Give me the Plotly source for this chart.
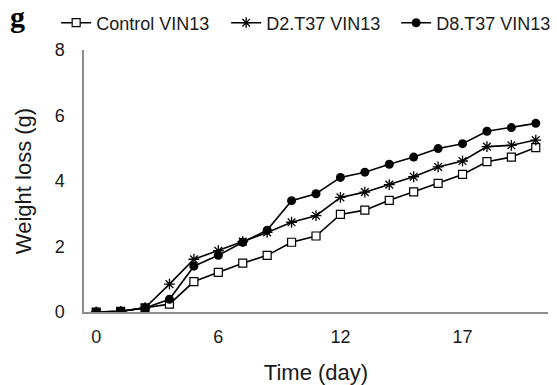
import plotly.graph_objects as go

# Sampling days (category axis, labelled every 5th point)
days = ["0", "1", "2", "3", "5", "6", "7", "8", "9", "10",
        "12", "13", "14", "15", "16", "17", "18", "19", "20"]
tick_days = ["0", "6", "12", "17"]

# Cumulative weight loss (g)
control_vin13 = [0.00, 0.02, 0.13, 0.24, 0.93, 1.21, 1.49, 1.73, 2.13, 2.32,
                 2.98, 3.11, 3.41, 3.67, 3.93, 4.20, 4.59, 4.73, 5.02]
d2_t37_vin13 = [0.00, 0.02, 0.13, 0.85, 1.61, 1.87, 2.15, 2.43, 2.74, 2.94,
                3.50, 3.66, 3.89, 4.13, 4.43, 4.61, 5.05, 5.09, 5.25]
d8_t37_vin13 = [0.00, 0.02, 0.12, 0.39, 1.40, 1.73, 2.13, 2.50, 3.40, 3.61,
                4.11, 4.27, 4.51, 4.73, 4.99, 5.14, 5.52, 5.63, 5.76]

series = [
    ("Control VIN13", control_vin13, dict(symbol="square", size=8, color="white",
                                          line=dict(color="black", width=1.2))),
    ("D2.T37 VIN13", d2_t37_vin13, dict(symbol="asterisk-open", size=9, color="black",
                                        line=dict(color="black", width=1.3))),
    ("D8.T37 VIN13", d8_t37_vin13, dict(symbol="circle", size=9, color="black",
                                        line=dict(color="black", width=0))),
]

fig = go.Figure()
for name, vals, marker in series:
    fig.add_trace(go.Scatter(
        x=days, y=vals, name=name, mode="lines+markers",
        line=dict(color="black", width=1.6), marker=marker,
    ))

axis_color = "#8c8c8c"
fig.update_layout(
    width=557, height=385,
    margin=dict(l=84, r=9, t=50, b=73, autoexpand=False),
    paper_bgcolor="white", plot_bgcolor="white",
    font=dict(family="Liberation Sans, Arial, sans-serif", size=18, color="#1a1a1a"),
    showlegend=True,
    legend=dict(orientation="h", x=-0.06, xanchor="left",
                y=1.103, yanchor="middle", yref="paper",
                font=dict(size=18), entrywidth=125, entrywidthmode="pixels",
                bgcolor="rgba(0,0,0,0)"),
    xaxis=dict(type="category", range=[-0.5, 18.5], tickmode="array",
               tickvals=tick_days, ticktext=tick_days,
               showline=True, linecolor=axis_color, linewidth=1.5,
               showgrid=False, zeroline=False, ticks="", ticklabelstandoff=8,
               automargin=False,
               title=dict(text="Time (day)", standoff=22)),
    yaxis=dict(range=[0, 8], tickvals=[0, 2, 4, 6, 8],
               showline=True, linecolor=axis_color, linewidth=1.5,
               showgrid=False, zeroline=False, ticks="", ticklabelstandoff=14,
               automargin=False,
               title=dict(text="Weight loss (g)", standoff=16.5)),
)

# Panel letter
fig.add_annotation(text="<b>g</b>", xref="paper", yref="paper", x=-0.144, y=1.126,
                   xanchor="center", yanchor="middle", showarrow=False,
                   font=dict(family="Liberation Serif, Times New Roman, serif", size=30,
                             color="black"))

fig.write_html("out.html")
